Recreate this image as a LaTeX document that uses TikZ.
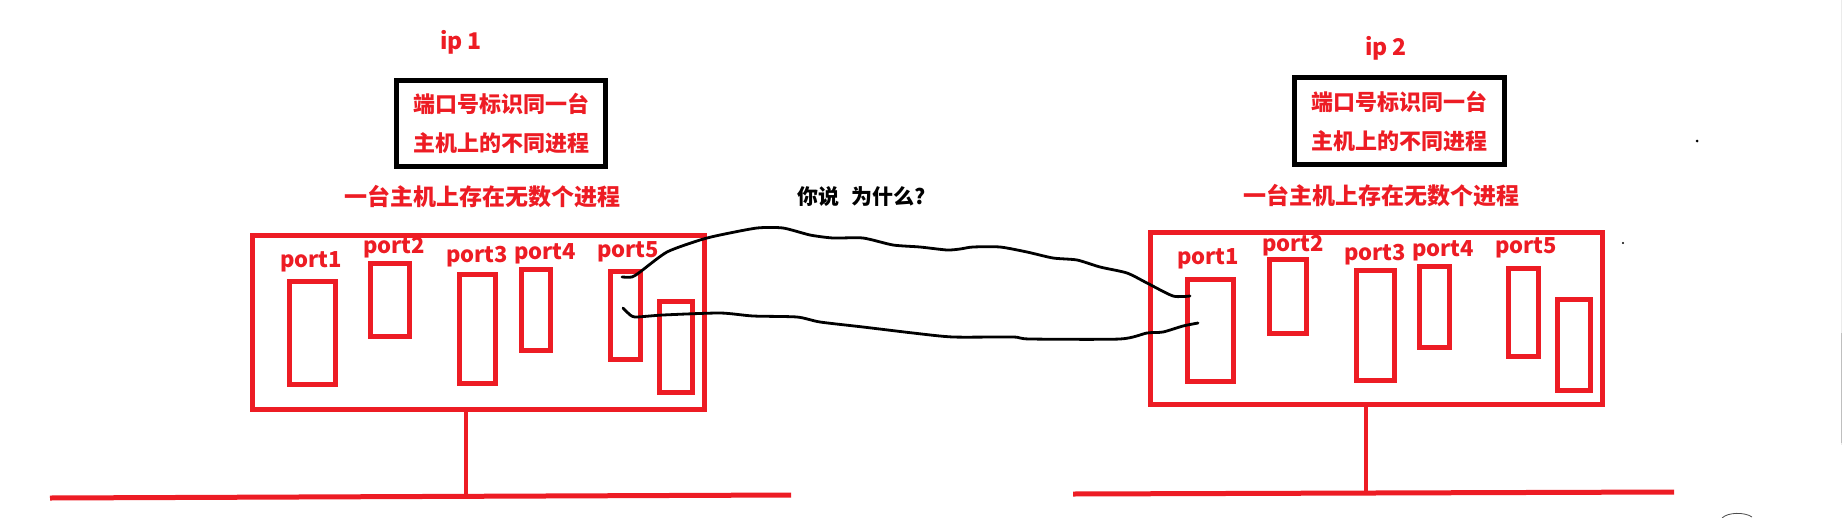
\documentclass[tikz,border=0pt]{standalone}
\usepackage{fontspec}
\usepackage{xcolor}
\usepackage{tikz}
\setmainfont{Noto Sans CJK SC}
\definecolor{paintred}{RGB}{237,28,36}
\usetikzlibrary{positioning,calc}

\begin{document}
\begin{tikzpicture}[x=1pt,y=-1pt,
    hostbox/.style={draw=paintred,line width=5pt,inner sep=0pt},
    portbox/.style={draw=paintred,line width=5pt,inner sep=0pt},
    notebox/.style={draw=black,line width=5.5pt,align=center,inner sep=0pt,text=paintred,font=\fontsize{22}{39}\selectfont\bfseries},
    redtext/.style={text=paintred,inner sep=0pt,font=\fontsize{23}{28}\selectfont\bfseries},
    portlabel/.style={text=paintred,inner sep=0pt,font=\fontsize{22}{26}\selectfont\bfseries},
    wire/.style={line width=2.8pt,line cap=round,line join=round},
    ground/.style={draw=paintred,line width=5pt}]
    \useasboundingbox (0,0) rectangle (1842,517);

    % host 1
    \node [redtext] (ip1) at (461,42) {ip 1};
    \node [notebox, minimum width=209pt, minimum height=86pt] (note1) at (501,123.5) {端口号标识同一台\\主机上的不同进程};
    \node [redtext] (many1) at (482,197) {一台主机上存在无数个进程};
    \node [hostbox, minimum width=452pt, minimum height=174pt] (host1) at (478.5,322.5) {};
    \foreach \n/\x/\y/\w/\h in {1/312/332.5/46/103, 2/389.5/299.5/39/73, 3/477/328.5/36/109, 4/535.5/309.5/29/81, 5/625/315/30/88, 6/675.5/346.5/33/91}
        \node [portbox, minimum width=\w pt, minimum height=\h pt] (a\n) at (\x,\y) {};
    \foreach \n/\x/\y in {1/311/262, 2/394/248, 3/477/257, 4/545/254, 5/628/252}
        \node [portlabel] (la\n) at (\x,\y) {port\n};

    % host 2
    \node [redtext] (ip2) at (1386,48) {ip 2};
    \node [notebox, minimum width=210pt, minimum height=87pt] (note2) at (1399.5,121) {端口号标识同一台\\主机上的不同进程};
    \node [redtext] (many2) at (1381,196) {一台主机上存在无数个进程};
    \node [hostbox, minimum width=452pt, minimum height=172pt] (host2) at (1376.5,318.5) {};
    \foreach \n/\x/\y/\w/\h in {1/1210/330/46/102, 2/1287.5/296/37/74, 3/1375/325/38/110, 4/1434/306.5/30/81, 5/1523/312/30/88, 6/1573.5/344.5/33/91}
        \node [portbox, minimum width=\w pt, minimum height=\h pt] (b\n) at (\x,\y) {};
    \foreach \n/\x/\y in {1/1208/259, 2/1293/246, 3/1375/255, 4/1443/251, 5/1526/248}
        \node [portlabel] (lb\n) at (\x,\y) {port\n};

    \node [inner sep=0pt, font=\fontsize{21}{24}\selectfont\bfseries] (why) at (862,197) {你说\hspace{12pt}为什么?};

    % ground lines
    \coordinate (g1l) at (50,498);
    \coordinate (g1r) at (791,495);
    \coordinate (g1) at (466,496);
    \coordinate (g2l) at (1073,494);
    \coordinate (g2r) at (1674,492);
    \coordinate (g2) at (1366,493);
    \draw [ground] (g1l) -- (g1r);
    \draw [ground] (g2l) -- (g2r);
    \draw [ground, line width=4.5pt] (host1.south -| g1) -- (g1);
    \draw [ground, line width=4.5pt] (host2.south -| g2) -- (g2);

    % wires
    \coordinate (w1s) at (622,277);
    \coordinate (w1e) at (1190,296);
    \coordinate (w2s) at (623,308);
    \coordinate (w2e) at (1198,323);
    \draw [wire] plot [smooth, tension=0.4] coordinates {(w1s) (632,277) (640,272) (667,252) (700,240) (720,235) (757,228) (783,228) (810,235) (833,238) (863,238) (893,245) (920,247) (947,250) (960,249) (973,247) (1000,247) (1027,252) (1053,258) (1077,260) (1100,267) (1127,273) (1147,283) (1173,296) (w1e)};
    \draw [wire] plot [smooth, tension=0.4] coordinates {(w2s) (628,313) (635,317) (663,315) (720,313) (753,316) (797,317) (820,322) (863,327) (913,333) (953,337) (1013,337) (1030,339) (1120,339) (1147,333) (1163,332) (1183,326) (w2e)};

    % stray marks
    \fill (1697,141) circle (1.5pt);
    \fill (1623,243) circle (1.2pt);
    \draw [black!70, line width=0.8pt] (1722,518) .. controls (1728,512) and (1745,512) .. (1752,517);
    \draw [black!8, line width=1pt] (1841,0) -- (1841,445);
    \draw [black!25, line width=1pt] (1841,333) -- (1841,443);
\end{tikzpicture}
\end{document}
